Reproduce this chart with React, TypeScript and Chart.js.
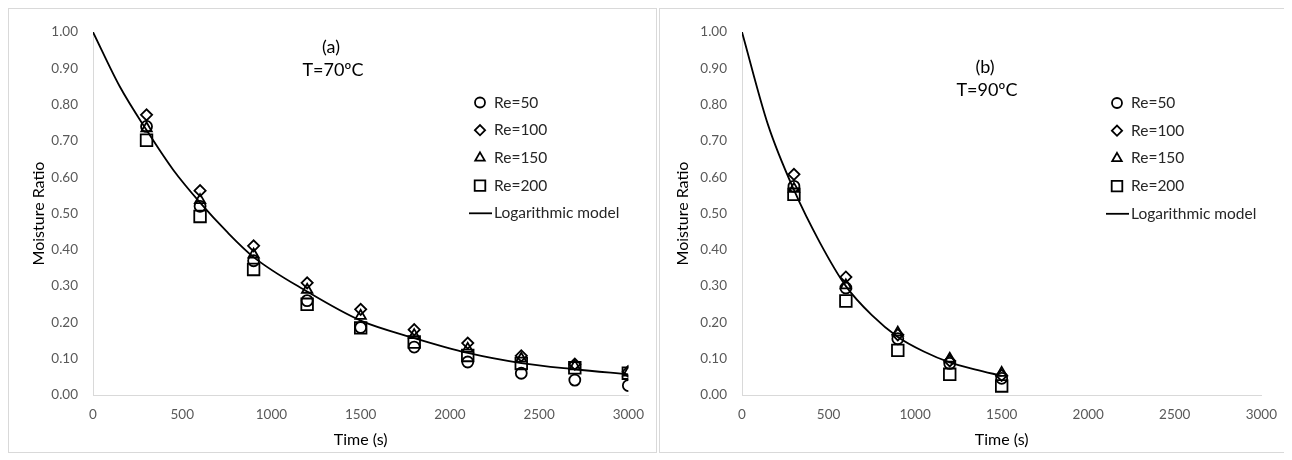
import React, { useEffect, useRef } from 'react';
import Chart from 'chart.js/auto';
import { drawPoint } from 'chart.js/helpers';

// ---------- Data: panel (a), T = 70 ºC ----------
const timeA = [300, 600, 900, 1200, 1500, 1800, 2100, 2400, 2700, 3000];
const re50A = [0.74, 0.52, 0.37, 0.26, 0.186, 0.132, 0.091, 0.06, 0.041, 0.026];
const re100A = [0.772, 0.563, 0.411, 0.309, 0.236, 0.18, 0.143, 0.108, 0.085, 0.065];
const re150A = [0.735, 0.537, 0.387, 0.29, 0.218, 0.165, 0.127, 0.1, 0.079, 0.062];
const re200A = [0.702, 0.492, 0.346, 0.25, 0.185, 0.146, 0.109, 0.087, 0.075, 0.06];
const modelTimeA = [0, 150, 300, 450, 600, 750, 900, 1200, 1500, 1800, 2100, 2400, 2700, 3000];
const modelA = [1.0, 0.85, 0.73, 0.62, 0.53, 0.45, 0.38, 0.285, 0.205, 0.157, 0.116, 0.088, 0.071, 0.057];

// ---------- Data: panel (b), T = 90 ºC ----------
const timeB = [300, 600, 900, 1200, 1500];
const re50B = [0.575, 0.295, 0.155, 0.087, 0.046];
const re100B = [0.608, 0.325, 0.166, 0.094, 0.054];
const re150B = [0.568, 0.302, 0.172, 0.1, 0.061];
const re200B = [0.553, 0.259, 0.123, 0.057, 0.025];
const modelTimeB = [0, 150, 300, 450, 600, 750, 900, 1050, 1200, 1350, 1500];
const modelB = [1.0, 0.745, 0.565, 0.42, 0.3, 0.22, 0.16, 0.12, 0.09, 0.07, 0.053];

// ---------- Labels ----------
const seriesLabels = ['Re=50', 'Re=100', 'Re=150', 'Re=200', 'Logarithmic model'];
const yTicks = [0, 0.1, 0.2, 0.3, 0.4, 0.5, 0.6, 0.7, 0.8, 0.9, 1.0];
const xTicks = [0, 500, 1000, 1500, 2000, 2500, 3000];

const FONT = 'Lato, "Open Sans", sans-serif';

const markers = [
  { pointStyle: 'circle', radius: 5.5 },
  { pointStyle: 'rectRot', radius: 5.6 },
  { pointStyle: 'triangle', radius: 6 },
  { pointStyle: 'rect', radius: 8.2 },
];

type PanelDef = {
  times: number[];
  series: number[][];
  modelT: number[];
  model: number[];
  width: number;
  height: number;
  yAxisWidth: number;
  yTitlePad: number;
  padRight: number;
  legendX: number;
  legendY: number;
  tag: string;
  temp: string;
  tagX: number;
  tagY: number;
  tempY: number;
};

function toPts(xs: number[], ys: number[]) {
  return xs.map((x, i) => ({ x, y: ys[i] }));
}

function makeChart(canvas: HTMLCanvasElement, p: PanelDef) {
  const datasets: any[] = p.series.map((s, i) => ({
    type: 'scatter',
    label: seriesLabels[i],
    data: toPts(p.times, s),
    showLine: false,
    pointStyle: markers[i].pointStyle,
    pointRadius: markers[i].radius,
    pointBorderColor: '#000',
    pointBackgroundColor: 'rgba(0,0,0,0)',
    pointBorderWidth: 1.8,
  }));
  datasets.push({
    type: 'line',
    label: seriesLabels[4],
    data: toPts(p.modelT, p.model),
    showLine: true,
    borderColor: '#000',
    borderWidth: 1.8,
    pointRadius: 0,
    cubicInterpolationMode: 'monotone',
    fill: false,
  });

  const overlay = {
    id: 'overlay',
    afterDraw(chart: any) {
      const ctx = chart.ctx as CanvasRenderingContext2D;
      ctx.save();
      // annotations
      ctx.fillStyle = '#000';
      ctx.font = `18px ${FONT}`;
      ctx.textAlign = 'center';
      ctx.textBaseline = 'middle';
      ctx.fillText(p.tag, p.tagX, p.tagY);
      ctx.fillText(p.temp, p.tagX + 2, p.tempY);
      // legend
      const gap = 27.7;
      ctx.font = `15.5px ${FONT}`;
      ctx.textAlign = 'left';
      for (let i = 0; i < 5; i++) {
        const y = p.legendY + i * gap;
        ctx.strokeStyle = '#000';
        ctx.fillStyle = 'rgba(0,0,0,0)';
        if (i < 4) {
          ctx.lineWidth = 1.8;
          drawPoint(ctx, {
            pointStyle: markers[i].pointStyle as any,
            radius: i === 3 ? 7.5 : markers[i].radius - 0.5,
            rotation: 0,
            borderWidth: 1.8,
          } as any, p.legendX, y);
        } else {
          ctx.lineWidth = 1.8;
          ctx.beginPath();
          ctx.moveTo(p.legendX - 11, y);
          ctx.lineTo(p.legendX + 12, y);
          ctx.stroke();
        }
        ctx.fillStyle = '#262626';
        ctx.fillText(seriesLabels[i], p.legendX + 14, y);
      }
      ctx.restore();
    },
  };

  return new Chart(canvas, {
    type: 'scatter',
    data: { datasets },
    plugins: [overlay],
    options: {
      animation: false,
      responsive: false,
      events: [],
      layout: { padding: { left: 0, top: 19, right: p.padRight, bottom: 0 } },
      plugins: {
        legend: { display: false },
        tooltip: { enabled: false },
        title: { display: false },
      },
      scales: {
        x: {
          type: 'linear',
          min: 0,
          max: 3000,
          afterBuildTicks: (axis: any) => {
            axis.ticks = xTicks.map((v) => ({ value: v }));
          },
          afterFit: (axis: any) => {
            axis.height = 57;
          },
          grid: { display: false, drawTicks: false },
          border: { display: true, color: '#d9d9d9', width: 1 },
          ticks: {
            color: '#595959',
            font: { family: FONT, size: 13.5 },
            padding: 12,
            maxRotation: 0,
            callback: (v: any) => String(v),
          },
          title: {
            display: true,
            text: 'Time (s)',
            color: '#000',
            font: { family: FONT, size: 16 },
            padding: { top: 0, bottom: 3 },
          },
        },
        y: {
          type: 'linear',
          min: 0,
          max: 1,
          afterBuildTicks: (axis: any) => {
            axis.ticks = yTicks.map((v) => ({ value: v }));
          },
          afterFit: (axis: any) => {
            axis.width = p.yAxisWidth;
          },
          grid: { display: false, drawTicks: false },
          border: { display: true, color: '#d9d9d9', width: 1 },
          ticks: {
            color: '#595959',
            font: { family: FONT, size: 13.5 },
            padding: 15,
            callback: (v: any) => Number(v).toFixed(2),
          },
          title: {
            display: true,
            text: 'Moisture Ratio',
            color: '#000',
            font: { family: FONT, size: 16 },
            padding: { top: p.yTitlePad, bottom: 0 },
          },
        },
      },
    } as any,
  });
}

const panelA: PanelDef = {
  times: timeA,
  series: [re50A, re100A, re150A, re200A],
  modelT: modelTimeA,
  model: modelA,
  width: 647,
  height: 443,
  yAxisWidth: 84,
  yTitlePad: 20,
  padRight: 24,
  legendX: 471,
  legendY: 93.5,
  tag: '(a)',
  temp: 'T=70ºC',
  tagX: 322,
  tagY: 38,
  tempY: 61,
};

const panelB: PanelDef = {
  times: timeB,
  series: [re50B, re100B, re150B, re200B],
  modelT: modelTimeB,
  model: modelB,
  width: 629,
  height: 443,
  yAxisWidth: 82,
  yTitlePad: 13,
  padRight: 19,
  legendX: 457,
  legendY: 94,
  tag: '(b)',
  temp: 'T=90ºC',
  tagX: 325,
  tagY: 58,
  tempY: 81,
};

function Panel({ def, left }: { def: PanelDef; left: number }) {
  const ref = useRef<HTMLCanvasElement | null>(null);
  useEffect(() => {
    if (!ref.current) return;
    const chart = makeChart(ref.current, def);
    return () => chart.destroy();
  }, [def]);
  return (
    <div
      style={{
        position: 'absolute',
        left,
        top: 0,
        width: def.width,
        height: def.height,
        border: '1px solid #d9d9d9',
        background: '#fff',
      }}
    >
      <canvas
        ref={ref}
        width={def.width}
        height={def.height}
        style={{ display: 'block', width: def.width, height: def.height }}
      />
    </div>
  );
}

export default function App() {
  return (
    <div style={{ position: 'relative', width: 1282, height: 445 }}>
      <Panel def={panelA} left={0} />
      <Panel def={panelB} left={651} />
    </div>
  );
}
